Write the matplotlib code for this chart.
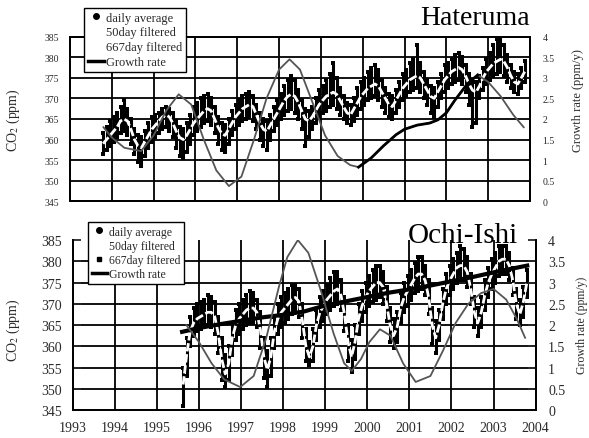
import numpy as np
import matplotlib
matplotlib.use("Agg")
import matplotlib.pyplot as plt
from matplotlib.lines import Line2D

plt.rcParams['font.family'] = ['Liberation Serif', 'DejaVu Serif']
plt.rcParams['mathtext.fontset'] = 'stix'

# ---- Hateruma: monthly values, Oct 1993 - Nov 2003 ----
hat_start = 1993 + 9 / 12
hat_filt = [359.0, 360.0, 361.0,
            362.0, 363.0, 364.5, 365.0, 364.5, 362.5, 360.0, 358.5, 358.0, 359.5, 361.0, 362.5,
            363.5, 364.5, 365.5, 366.0, 365.5, 364.0, 362.0, 360.5, 360.0, 361.0, 362.5, 364.0,
            365.0, 366.0, 367.0, 367.5, 367.0, 365.0, 363.0, 361.5, 361.0, 362.5, 364.0, 365.5,
            366.5, 367.5, 368.0, 368.5, 368.0, 366.0, 364.0, 362.5, 362.0, 363.5, 365.0, 366.5,
            368.0, 369.5, 370.5, 371.0, 370.5, 369.0, 367.0, 365.0, 364.5, 365.5, 367.0, 368.5,
            369.5, 370.5, 371.0, 371.5, 371.0, 369.5, 368.0, 366.5, 366.0, 367.5, 369.0, 370.5,
            371.5, 372.5, 373.0, 373.5, 373.0, 371.5, 370.0, 368.5, 368.0, 369.5, 371.0, 372.5,
            373.5, 374.5, 375.0, 375.5, 375.0, 373.5, 372.0, 370.5, 370.0, 371.5, 373.0, 374.5,
            375.5, 376.5, 377.0, 377.5, 377.0, 375.5, 373.5, 372.0, 371.5, 373.0, 375.0, 376.5,
            377.5, 378.5, 379.0, 379.5, 379.0, 377.5, 375.5, 374.0, 373.5, 375.0, 376.5]
hat_hi = [361.5, 363.0, 364.5,
          365.5, 366.5, 368.0, 369.5, 367.5, 365.0, 362.5, 361.0, 360.5, 362.0, 364.0, 365.5,
          366.0, 366.5, 367.5, 368.0, 367.5, 366.5, 364.5, 363.0, 362.5, 364.0, 366.0, 368.0,
          369.0, 370.0, 370.5, 371.0, 370.0, 368.0, 365.5, 364.0, 363.5, 365.0, 367.0, 368.5,
          369.5, 370.5, 371.0, 371.5, 370.5, 368.5, 366.5, 365.0, 364.5, 366.0, 368.0, 369.5,
          371.0, 373.0, 374.5, 375.5, 374.5, 372.0, 369.5, 367.5, 367.0, 368.0, 370.0, 372.0,
          373.0, 374.5, 376.0, 378.5, 375.0, 372.5, 370.5, 369.0, 368.5, 370.0, 372.5, 374.0,
          375.0, 376.5, 377.5, 378.0, 377.0, 374.5, 372.5, 371.0, 370.5, 372.0, 374.0, 376.0,
          377.0, 378.5, 379.5, 383.0, 378.5, 376.5, 374.5, 373.0, 372.5, 374.0, 376.0, 378.0,
          378.5, 379.5, 380.5, 381.0, 380.0, 378.0, 376.0, 374.5, 374.0, 375.5, 377.5, 379.5,
          381.0, 383.0, 384.5, 385.0, 383.0, 380.5, 378.0, 376.5, 376.0, 377.5, 379.0]
hat_lo = [356.5, 357.5, 358.5,
          359.5, 360.5, 361.5, 362.0, 361.0, 359.0, 356.5, 354.5, 353.5, 356.0, 358.0, 359.5,
          360.5, 361.5, 362.5, 363.0, 362.0, 360.5, 358.0, 356.0, 355.5, 357.0, 359.0, 361.0,
          362.0, 363.0, 364.0, 364.5, 363.5, 361.5, 359.0, 357.5, 357.0, 359.0, 361.0, 362.5,
          363.5, 364.5, 365.0, 365.5, 364.5, 362.5, 360.0, 358.5, 357.5, 360.0, 362.0, 363.5,
          365.0, 366.0, 367.0, 367.5, 366.5, 365.0, 362.5, 358.5, 360.5, 362.5, 364.0, 365.5,
          366.5, 367.0, 368.0, 368.5, 367.5, 366.0, 365.0, 364.0, 363.5, 364.5, 366.0, 367.5,
          368.5, 369.5, 370.0, 370.5, 369.5, 368.0, 366.5, 365.5, 365.0, 366.5, 368.0, 369.5,
          370.5, 371.5, 372.0, 372.5, 371.5, 370.0, 368.5, 366.5, 365.5, 368.0, 370.0, 371.5,
          372.5, 373.5, 374.0, 374.5, 373.5, 371.5, 368.5, 363.0, 364.0, 370.0, 372.0, 373.5,
          374.5, 375.5, 376.0, 376.5, 375.5, 374.0, 372.5, 371.5, 371.0, 372.5, 374.0]

hat_gr_t = [1993.8, 1994.0, 1994.3, 1994.7, 1995.0, 1995.3, 1995.6, 1995.9, 1996.2, 1996.5,
            1996.8, 1997.1, 1997.4, 1997.7, 1998.0, 1998.25, 1998.5, 1998.8, 1999.1, 1999.4,
            1999.7, 1999.9, 2000.2, 2000.5, 2000.8, 2001.0, 2001.3, 2001.6, 2001.8, 2002.0,
            2002.2, 2002.5, 2002.75, 2003.0, 2003.3, 2003.6, 2003.85]
hat_gr = [1.8, 1.55, 1.3, 1.22, 1.6, 2.2, 2.6, 2.35, 1.5, 0.75,
          0.37, 0.6, 1.5, 2.5, 3.2, 3.45, 3.2, 2.4, 1.6, 1.1,
          0.88, 0.83, 1.05, 1.35, 1.62, 1.75, 1.85, 1.9, 1.98, 2.15,
          2.45, 2.85, 3.07, 2.9, 2.55, 2.1, 1.8]
hat_bold = (21, 33)  # part of the growth-rate curve printed bold

# ---- Ochi-Ishi: monthly values, Aug 1995 - Oct 2003 ----
och_start = 1995 + 7 / 12
och_filt = [351.0, 358.0, 363.5, 365.5, 366.5,
            367.0, 367.5, 368.0, 368.0, 367.0, 363.0, 357.0, 353.5, 356.0, 362.0, 365.0, 366.5,
            367.5, 368.5, 369.0, 369.0, 368.0, 364.0, 357.5, 354.5, 357.5, 363.5, 366.5, 368.0,
            369.0, 370.0, 371.0, 371.5, 370.5, 366.0, 360.0, 357.5, 360.0, 365.0, 368.0, 369.5,
            371.0, 372.0, 373.0, 373.5, 372.0, 367.5, 361.0, 357.5, 361.0, 366.5, 369.5, 371.5,
            373.0, 374.0, 375.0, 375.0, 374.0, 370.0, 365.0, 362.5, 364.5, 369.0, 371.5, 373.0,
            374.5, 376.0, 377.0, 377.0, 375.5, 371.5, 365.0, 362.0, 365.0, 370.0, 373.5, 375.5,
            377.0, 378.5, 379.0, 379.0, 377.5, 373.5, 368.0, 365.5, 368.0, 372.0, 375.0, 377.0,
            378.5, 380.0, 380.5, 380.5, 379.0, 375.5, 370.0, 367.5, 370.5, 375.0]
och_hi = [355.0, 362.0, 367.0, 369.0, 370.0,
          370.5, 371.0, 372.0, 371.5, 370.5, 367.0, 362.0, 358.0, 360.0, 365.5, 368.5, 370.0,
          371.0, 372.0, 373.0, 372.5, 371.0, 368.0, 362.0, 359.0, 362.0, 367.0, 370.0, 371.5,
          372.5, 373.5, 374.5, 374.5, 373.5, 370.0, 364.0, 361.0, 364.0, 368.5, 371.5, 373.0,
          374.5, 376.0, 377.5, 377.5, 375.5, 371.5, 365.0, 361.5, 365.0, 370.0, 373.0, 375.0,
          376.5, 378.0, 379.0, 379.0, 377.5, 374.0, 369.0, 366.5, 368.0, 372.5, 375.0, 376.5,
          378.0, 379.5, 381.0, 381.0, 379.0, 375.5, 369.0, 366.0, 368.5, 373.5, 377.0, 379.0,
          380.5, 382.0, 383.5, 383.0, 381.0, 377.0, 371.5, 369.0, 371.5, 375.5, 378.5, 380.5,
          382.0, 383.5, 383.5, 383.5, 382.0, 378.5, 373.5, 371.0, 374.0, 378.0]
och_lo = [346.0, 353.0, 360.0, 362.5, 363.5,
          364.0, 364.5, 365.0, 364.5, 363.0, 358.5, 352.0, 350.5, 352.0, 358.0, 361.5, 363.0,
          364.0, 365.0, 365.5, 365.5, 364.5, 359.5, 352.5, 350.5, 353.0, 359.5, 363.0, 364.5,
          365.5, 366.5, 367.5, 368.0, 367.0, 362.0, 356.5, 355.5, 356.5, 361.5, 364.5, 366.0,
          367.5, 368.5, 369.5, 370.0, 368.5, 363.5, 356.5, 354.0, 357.0, 363.0, 366.0, 368.0,
          369.5, 370.5, 371.0, 371.5, 370.0, 366.0, 361.0, 359.5, 361.0, 365.5, 368.0, 369.5,
          371.0, 372.5, 373.0, 373.5, 372.0, 367.5, 360.5, 358.5, 361.5, 366.5, 370.0, 372.0,
          373.5, 375.0, 375.5, 375.5, 374.0, 370.0, 364.5, 362.5, 364.5, 368.5, 371.5, 373.5,
          375.0, 376.5, 377.0, 377.0, 375.5, 372.0, 366.5, 365.0, 367.0, 371.5]

och_trend_t = [1995.6, 1996.0, 1996.5, 1997.0, 1997.5, 1998.0, 1998.5, 1999.0, 1999.5,
               2000.0, 2000.5, 2001.0, 2001.5, 2002.0, 2002.5, 2003.0, 2003.5, 2003.8]
och_trend = [363.4, 364.3, 365.2, 366.0, 366.8, 367.4, 368.2, 369.6, 370.6,
             371.6, 372.6, 373.4, 374.3, 375.3, 376.3, 377.4, 378.4, 379.0]

och_gr_t = [1995.7, 1996.0, 1996.3, 1996.6, 1996.98, 1997.3, 1997.6, 1997.9, 1998.1, 1998.35,
            1998.6, 1998.9, 1999.2, 1999.45, 1999.63, 1999.85, 2000.05, 2000.3, 2000.55, 2000.85,
            2001.15, 2001.5, 2001.8, 2002.1, 2002.4, 2002.7, 2003.0, 2003.3, 2003.55, 2003.75]
och_gr = [2.0, 1.6, 1.1, 0.72, 0.54, 0.8, 1.7, 2.9, 3.6, 4.0,
          3.7, 2.8, 1.8, 1.1, 0.92, 1.2, 1.6, 1.9, 1.75, 1.1,
          0.66, 0.8, 1.4, 2.05, 2.5, 2.75, 2.85, 2.6, 2.15, 1.7]

years = list(range(1993, 2005))
co2_ticks = [345, 350, 355, 360, 365, 370, 375, 380, 385]
gr_ticks = [0, 0.5, 1, 1.5, 2, 2.5, 3, 3.5, 4]
gr_labels = ['0', '0.5', '1', '1.5', '2', '2.5', '3', '3.5', '4']

txt = '#2a2a2a'


def panel(rect, start, filt, hi, lo, gr_t, gr, tick_fs):
    ax = fig.add_axes(rect)
    t = start + (np.arange(len(filt)) + 0.5) / 12
    # daily average cloud: spread of the daily values in each month
    ax.vlines(t, lo, hi, color='k', lw=2.2, zorder=3)
    ax.plot(t, hi, 's', ms=3.5, mew=0, color='k', zorder=3)
    ax.plot(t, lo, 's', ms=3.5, mew=0, color='k', zorder=3)
    # 50-day filtered, printed white
    ax.plot(t, filt, '-', lw=2.0, color='white', dashes=(3, 1.0), zorder=4)
    ax.set_xlim(1993, 2004)
    ax.set_ylim(345, 385)
    ax.set_xticks(years)
    ax.set_yticks(co2_ticks)
    ax.grid(True, color='k', lw=1.3, zorder=1)
    ax.set_axisbelow(True)
    for s in ax.spines.values():
        s.set_linewidth(1.3)
    ax.set_ylabel('CO$_2$ (ppm)', fontsize=10, color=txt)
    ax.tick_params(axis='y', labelsize=tick_fs, colors=txt, length=0, pad=8)

    ax2 = ax.twinx()
    ax2.set_ylim(0, 4)
    ax2.set_yticks(gr_ticks)
    ax2.set_yticklabels(gr_labels)
    ax2.tick_params(axis='y', labelsize=tick_fs, colors=txt, length=0, pad=9)
    ax2.plot(gr_t, gr, '-', color='#555555', lw=1.3, zorder=5)
    ax2.set_ylabel('Growth rate (ppm/y)', fontsize=9, color=txt)
    for s in ax2.spines.values():
        s.set_linewidth(1.3)
    return ax, ax2


fig = plt.figure(figsize=(5.89, 4.39), dpi=100)

# top panel: Hateruma
ax, ax2 = panel([0.1188, 0.5392, 0.781, 0.375], hat_start, hat_filt, hat_hi, hat_lo,
                hat_gr_t, hat_gr, 7)
ax.tick_params(axis='x', labelbottom=False, length=0)
ax2.plot(hat_gr_t[hat_bold[0]:hat_bold[1]], hat_gr[hat_bold[0]:hat_bold[1]], '-',
         color='k', lw=2.0, zorder=6)
ax.yaxis.set_label_coords(-0.104, 0.5)
ax2.yaxis.set_label_coords(1.091, 0.62)
ax.text(1.0, 1.04, 'Hateruma', transform=ax.transAxes, ha='right', va='bottom',
        fontsize=20, color='k')
h = [Line2D([], [], ls='none', marker='o', ms=4, color='k'),
     Line2D([], [], color='white', lw=2),
     Line2D([], [], color='white', lw=2),
     Line2D([], [], color='k', lw=2.5)]
lab = ['daily average', '50day filtered', '667day filtered', 'Growth rate']
leg = ax2.legend(h, lab, loc='upper left', bbox_to_anchor=(0.1426, 0.9795),
                 bbox_transform=fig.transFigure, fontsize=9, labelspacing=0.22,
                 handlelength=1.3, handletextpad=0.2, borderpad=0.3, borderaxespad=0,
                 fancybox=False, framealpha=1, edgecolor='k')
leg.get_frame().set_linewidth(1.0)
for tx in leg.get_texts():
    tx.set_color(txt)

# bottom panel: Ochi-Ishi
bx, bx2 = panel([0.1234, 0.0638, 0.786, 0.387], och_start, och_filt, och_hi, och_lo,
                och_gr_t, och_gr, 10)
bx.plot(och_trend_t, och_trend, '-', color='k', lw=3, zorder=4)
bx.spines['top'].set_visible(False)
bx2.spines['top'].set_visible(False)
bx.get_ygridlines()[-1].set_visible(False)
bx.tick_params(axis='x', labelsize=10, colors=txt, length=0, pad=8)
bx.tick_params(axis='y', direction='in', length=6, width=1.3)
bx2.tick_params(axis='y', direction='in', length=6, width=1.3)
bx.yaxis.set_label_coords(-0.11, 0.476)
bx2.yaxis.set_label_coords(1.088, 0.506)
bx2.yaxis.label.set_fontsize(8.5)
bx.text(0.962, 1.03, 'Ochi-Ishi', transform=bx.transAxes, ha='right', va='center',
        fontsize=21, color='k', zorder=10)
h2 = [Line2D([], [], ls='none', marker='o', ms=4, color='k'),
      Line2D([], [], color='white', lw=2),
      Line2D([], [], ls='none', marker='s', ms=2.5, color='k'),
      Line2D([], [], color='k', lw=2.5)]
leg2 = bx2.legend(h2, lab, loc='upper left', bbox_to_anchor=(0.1494, 0.492),
                  bbox_transform=fig.transFigure, fontsize=8.5, labelspacing=0.19,
                  handlelength=1.3, handletextpad=0.2, borderpad=0.3, borderaxespad=0,
                  fancybox=False, framealpha=1, edgecolor='k')
leg2.get_frame().set_linewidth(1.0)
for tx in leg2.get_texts():
    tx.set_color(txt)

fig.savefig('out.png', dpi=100)
